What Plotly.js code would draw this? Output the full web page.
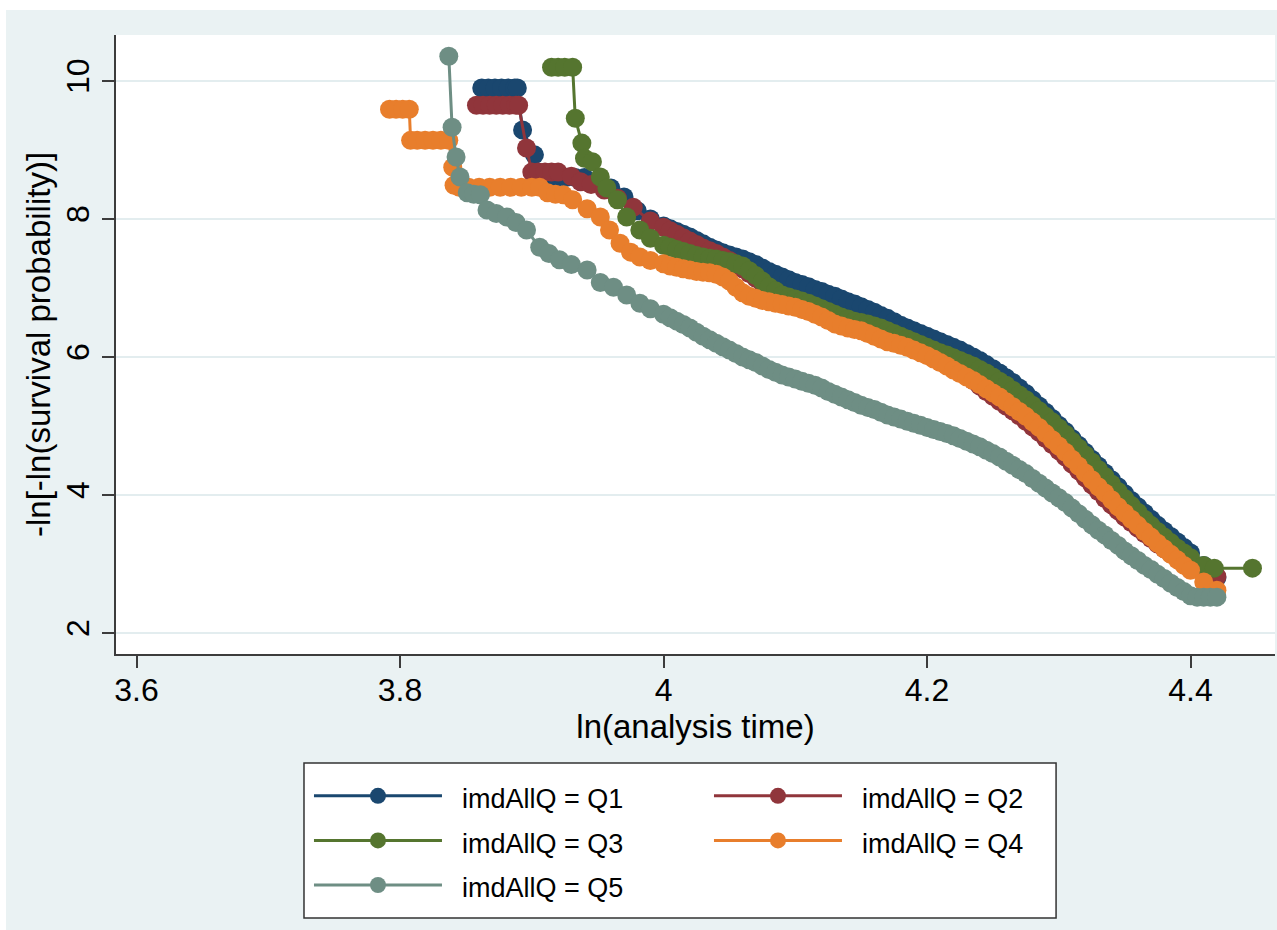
<!DOCTYPE html>
<html>
<head>
<meta charset="utf-8">
<script src="https://cdn.plot.ly/plotly-3.0.1.min.js"></script>
<style>
html,body{margin:0;padding:0;background:#ffffff;width:1277px;height:930px;overflow:hidden}
#chart{position:absolute;left:6px;top:10px;width:1271px;height:920px}
</style>
</head>
<body>
<div id="chart"></div>
<script>
// ---- data ----
const seriesNames = ["imdAllQ = Q1", "imdAllQ = Q2", "imdAllQ = Q3", "imdAllQ = Q4", "imdAllQ = Q5"];
const seriesColors = ["#1a476f", "#90353b", "#55752f", "#e87e2c", "#6e8e84"];

const xTickVals = [3.6, 3.8, 4, 4.2, 4.4];
const xTickText = ["3.6", "3.8", "4", "4.2", "4.4"];
const yTickVals = [2, 4, 6, 8, 10];
const yTickText = ["2", "4", "6", "8", "10"];

// ln(t) positions at which the main body of each curve was read
const gridX = [
  4.000, 4.005, 4.010, 4.015, 4.020, 4.025, 4.030, 4.035, 4.040, 4.045,
  4.050, 4.055, 4.060, 4.065, 4.070, 4.075, 4.080, 4.085, 4.090, 4.095,
  4.100, 4.105, 4.110, 4.115, 4.120, 4.125, 4.130, 4.135, 4.140, 4.145,
  4.150, 4.155, 4.160, 4.165, 4.170, 4.175, 4.180, 4.185, 4.190, 4.195,
  4.200, 4.205, 4.210, 4.215, 4.220, 4.225, 4.230, 4.235, 4.240, 4.245,
  4.250, 4.255, 4.260, 4.265, 4.270, 4.275, 4.280, 4.285, 4.290, 4.295,
  4.300, 4.305, 4.310, 4.315, 4.320, 4.325, 4.330, 4.335, 4.340, 4.345,
  4.350, 4.355, 4.360, 4.365, 4.370, 4.375, 4.380, 4.385, 4.390, 4.395,
  4.400, 4.410, 4.420];

// Q1
const q1EarlyX = [3.862, 3.867, 3.872, 3.877, 3.882, 3.887, 3.889, 3.893, 3.902, 3.905, 3.912, 3.919, 3.926, 3.933, 3.940, 3.950, 3.960, 3.970, 3.980, 3.990];
const q1EarlyY = [9.90, 9.90, 9.90, 9.90, 9.90, 9.90, 9.90, 9.29, 8.93, 8.60, 8.60, 8.60, 8.60, 8.60, 8.60, 8.52, 8.45, 8.32, 8.12, 8.00];
const q1MainY = [
  7.90, 7.86, 7.82, 7.78, 7.74, 7.69, 7.64, 7.59, 7.55, 7.51,
  7.48, 7.45, 7.42, 7.38, 7.34, 7.29, 7.24, 7.20, 7.16, 7.12,
  7.08, 7.05, 7.02, 6.98, 6.95, 6.91, 6.88, 6.84, 6.80, 6.77,
  6.73, 6.69, 6.65, 6.60, 6.56, 6.51, 6.46, 6.42, 6.38, 6.34,
  6.30, 6.26, 6.22, 6.18, 6.14, 6.10, 6.05, 6.00, 5.95, 5.89,
  5.83, 5.77, 5.70, 5.63, 5.55, 5.47, 5.38, 5.29, 5.20, 5.11,
  5.01, 4.92, 4.82, 4.72, 4.62, 4.52, 4.42, 4.32, 4.22, 4.12,
  4.02, 3.92, 3.83, 3.74, 3.65, 3.56, 3.48, 3.40, 3.32, 3.24,
  3.16, 2.98, 2.80];

// Q2
const q2EarlyX = [3.858, 3.863, 3.868, 3.873, 3.878, 3.883, 3.888, 3.890, 3.896, 3.900, 3.905, 3.910, 3.915, 3.920, 3.930, 3.937, 3.945, 3.955, 3.965, 3.977, 3.990];
const q2EarlyY = [9.65, 9.65, 9.65, 9.65, 9.65, 9.65, 9.65, 9.65, 9.03, 8.68, 8.68, 8.68, 8.68, 8.68, 8.62, 8.54, 8.50, 8.42, 8.30, 8.17, 7.97];
const q2MainY = [
  7.88, 7.83, 7.78, 7.73, 7.68, 7.63, 7.58, 7.54, 7.50, 7.45,
  7.40, 7.34, 7.28, 7.21, 7.14, 7.07, 7.00, 6.94, 6.88, 6.84,
  6.80, 6.77, 6.74, 6.70, 6.66, 6.62, 6.58, 6.54, 6.50, 6.47,
  6.45, 6.42, 6.39, 6.35, 6.32, 6.28, 6.25, 6.21, 6.17, 6.13,
  6.09, 6.04, 5.99, 5.93, 5.86, 5.80, 5.73, 5.66, 5.58, 5.50,
  5.43, 5.36, 5.29, 5.22, 5.15, 5.07, 4.99, 4.91, 4.82, 4.73,
  4.64, 4.55, 4.45, 4.35, 4.25, 4.15, 4.05, 3.95, 3.86, 3.77,
  3.68, 3.60, 3.52, 3.44, 3.37, 3.29, 3.22, 3.15, 3.08, 3.02,
  2.97, 2.88, 2.82];

// Q3
const q3EarlyX = [3.915, 3.920, 3.925, 3.931, 3.933, 3.938, 3.940, 3.946, 3.952, 3.957, 3.965, 3.972, 3.982, 3.990];
const q3EarlyY = [10.20, 10.20, 10.20, 10.20, 9.46, 9.10, 8.88, 8.83, 8.61, 8.45, 8.28, 8.03, 7.84, 7.72];
const q3MainY = [
  7.62, 7.59, 7.56, 7.53, 7.50, 7.47, 7.45, 7.43, 7.42, 7.40,
  7.38, 7.35, 7.32, 7.25, 7.18, 7.10, 7.02, 6.96, 6.90, 6.87,
  6.84, 6.81, 6.78, 6.74, 6.70, 6.66, 6.62, 6.58, 6.55, 6.52,
  6.50, 6.48, 6.45, 6.42, 6.38, 6.34, 6.30, 6.26, 6.22, 6.18,
  6.14, 6.10, 6.06, 6.03, 5.99, 5.95, 5.91, 5.87, 5.82, 5.77,
  5.71, 5.65, 5.59, 5.52, 5.45, 5.38, 5.30, 5.22, 5.14, 5.06,
  4.97, 4.88, 4.78, 4.68, 4.58, 4.48, 4.37, 4.27, 4.16, 4.05,
  3.95, 3.85, 3.75, 3.65, 3.56, 3.47, 3.39, 3.31, 3.23, 3.16,
  3.09, 2.98];
const q3TailX = [4.418, 4.447];
const q3TailY = [2.94, 2.94];

// Q4
const q4EarlyX = [3.792, 3.797, 3.802, 3.807, 3.808, 3.813, 3.819, 3.825, 3.831, 3.837, 3.840, 3.841,
                  3.845, 3.852, 3.860, 3.868, 3.876, 3.884, 3.892, 3.900, 3.906, 3.912, 3.918, 3.924,
                  3.931, 3.942, 3.952, 3.959, 3.967, 3.975, 3.982, 3.990];
const q4EarlyY = [9.59, 9.59, 9.59, 9.59, 9.14, 9.14, 9.14, 9.14, 9.14, 9.14, 8.75, 8.49,
                  8.46, 8.46, 8.46, 8.46, 8.46, 8.46, 8.46, 8.46, 8.46, 8.38, 8.36, 8.35,
                  8.28, 8.15, 8.03, 7.84, 7.65, 7.52, 7.45, 7.40];
const q4MainY = [
  7.35, 7.32, 7.30, 7.28, 7.26, 7.24, 7.23, 7.22, 7.20, 7.16,
  7.10, 7.01, 6.93, 6.88, 6.85, 6.82, 6.80, 6.78, 6.76, 6.74,
  6.72, 6.69, 6.66, 6.62, 6.58, 6.53, 6.48, 6.45, 6.42, 6.40,
  6.38, 6.34, 6.30, 6.26, 6.22, 6.20, 6.17, 6.14, 6.10, 6.06,
  6.02, 5.97, 5.92, 5.87, 5.81, 5.76, 5.71, 5.66, 5.60, 5.54,
  5.48, 5.42, 5.35, 5.28, 5.21, 5.14, 5.06, 4.98, 4.89, 4.80,
  4.71, 4.62, 4.52, 4.42, 4.32, 4.22, 4.12, 4.03, 3.93, 3.83,
  3.74, 3.65, 3.56, 3.47, 3.39, 3.30, 3.22, 3.14, 3.06, 2.98,
  2.91, 2.74, 2.62];

// Q5
const q5EarlyX = [3.837, 3.8395, 3.8425, 3.8455, 3.851, 3.856, 3.861, 3.866, 3.873, 3.881, 3.888, 3.896, 3.906, 3.913, 3.921, 3.930, 3.942, 3.952, 3.962, 3.972, 3.982, 3.990];
const q5EarlyY = [10.36, 9.33, 8.90, 8.61, 8.38, 8.36, 8.35, 8.13, 8.08, 8.03, 7.95, 7.84, 7.59, 7.50, 7.41, 7.34, 7.26, 7.08, 7.01, 6.90, 6.78, 6.70];
const q5MainY = [
  6.62, 6.57, 6.52, 6.47, 6.42, 6.36, 6.30, 6.25, 6.20, 6.15,
  6.10, 6.05, 6.00, 5.96, 5.92, 5.87, 5.82, 5.78, 5.74, 5.71,
  5.68, 5.65, 5.62, 5.59, 5.55, 5.50, 5.46, 5.42, 5.38, 5.34,
  5.30, 5.27, 5.24, 5.20, 5.16, 5.13, 5.10, 5.07, 5.04, 5.01,
  4.98, 4.95, 4.92, 4.89, 4.86, 4.82, 4.78, 4.74, 4.70, 4.65,
  4.60, 4.55, 4.49, 4.43, 4.37, 4.31, 4.24, 4.17, 4.10, 4.03,
  3.96, 3.89, 3.81, 3.73, 3.65, 3.57, 3.49, 3.42, 3.34, 3.27,
  3.19, 3.12, 3.05, 2.98, 2.92, 2.85, 2.79, 2.72, 2.66, 2.60,
  2.54];
const q5TailX = [4.405, 4.410, 4.415, 4.420];
const q5TailY = [2.52, 2.52, 2.52, 2.52];

// ---- assemble series ----
const seriesX = [
  q1EarlyX.concat(gridX.slice(0, q1MainY.length)),
  q2EarlyX.concat(gridX.slice(0, q2MainY.length)),
  q3EarlyX.concat(gridX.slice(0, q3MainY.length), q3TailX),
  q4EarlyX.concat(gridX.slice(0, q4MainY.length)),
  q5EarlyX.concat(gridX.slice(0, q5MainY.length), q5TailX)
];
const seriesY = [
  q1EarlyY.concat(q1MainY),
  q2EarlyY.concat(q2MainY),
  q3EarlyY.concat(q3MainY, q3TailY),
  q4EarlyY.concat(q4MainY),
  q5EarlyY.concat(q5MainY, q5TailY)
];

const FONT = "'Liberation Sans', Arial, Helvetica, sans-serif";

const traces = seriesNames.map((name, i) => ({
  type: "scatter",
  mode: "lines+markers",
  x: seriesX[i],
  y: seriesY[i],
  name: '<span style="font-size:27px">&nbsp;&nbsp;' + name + '</span>',
  line: {color: seriesColors[i], width: 3},
  marker: {color: seriesColors[i], size: 19},
  cliponaxis: false,
  hoverinfo: "skip"
}));

const axisCol = "#3c3c3c";

const layout = {
  width: 1271,
  height: 920,
  paper_bgcolor: "#eaf2f3",
  plot_bgcolor: "#ffffff",
  margin: {l: 110, r: 2, t: 25, b: 276, pad: 0},
  font: {family: FONT, color: "#000000"},
  showlegend: true,
  xaxis: {
    range: [3.5844, 4.4641],
    tickmode: "array",
    tickvals: xTickVals,
    ticktext: xTickText,
    showline: true, linecolor: axisCol, linewidth: 2,
    ticks: "outside", ticklen: 12, tickwidth: 2, tickcolor: axisCol,
    ticklabelstandoff: -5,
    showgrid: false, zeroline: false,
    tickfont: {size: 32, family: FONT, color: "#000"},
    title: {text: "ln(analysis time)", font: {size: 33, family: FONT, color: "#000"}, standoff: 4},
    automargin: false
  },
  yaxis: {
    range: [1.6957, 10.667],
    tickmode: "array",
    tickvals: yTickVals,
    ticktext: yTickText,
    tickangle: -90,
    showline: true, linecolor: axisCol, linewidth: 2,
    ticks: "outside", ticklen: 12, tickwidth: 2, tickcolor: axisCol,
    showgrid: true, gridcolor: "#e3edef", gridwidth: 2,
    zeroline: false,
    tickfont: {size: 32, family: FONT, color: "#000"},
    title: {text: "-ln[-ln(survival probability)]", font: {size: 33, family: FONT, color: "#000"}, standoff: 0},
    automargin: false
  },
  legend: {
    orientation: "h",
    x: 0.1665, xanchor: "left",
    y: -0.185, yanchor: "top",
    bgcolor: "rgba(0,0,0,0)",
    borderwidth: 0,
    font: {size: 32, family: FONT, color: "#000"},
    itemwidth: 128,
    entrywidth: 257,
    entrywidthmode: "pixels",
    traceorder: "normal",
    itemclick: false,
    itemdoubleclick: false
  },
  shapes: [{
    type: "rect", xref: "paper", yref: "paper",
    x0: 0.1622, x1: 0.8111, y0: -0.4265, y1: -0.1761,
    fillcolor: "#ffffff",
    line: {color: "#333333", width: 1.5},
    layer: "above"
  }]
};

Plotly.newPlot("chart", traces, layout, {staticPlot: true, displayModeBar: false});
</script>
</body>
</html>
